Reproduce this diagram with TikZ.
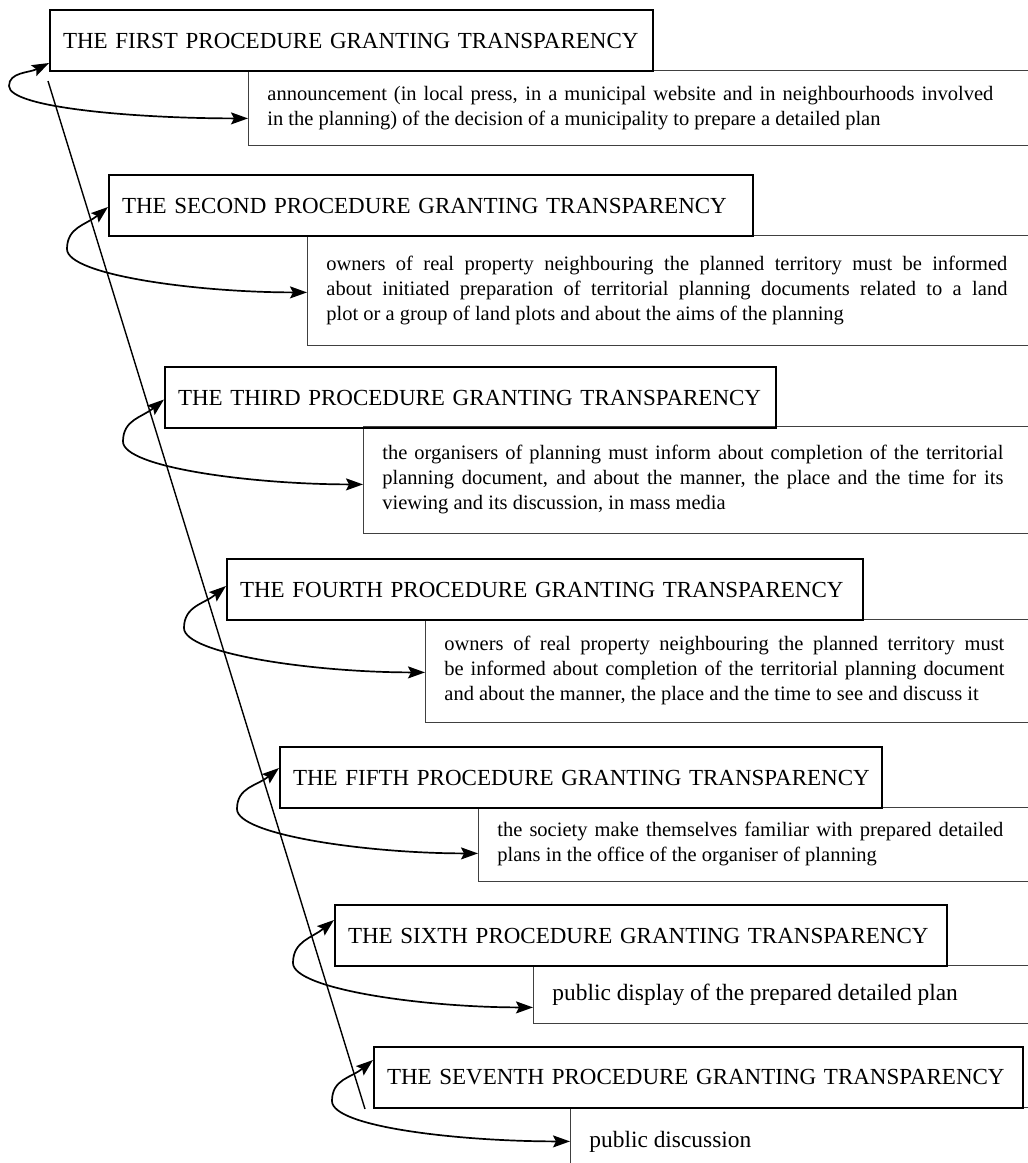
\documentclass[tikz,border=0pt]{standalone}
\usepackage{fontspec}
\setmainfont{Liberation Serif}
\usetikzlibrary{arrows.meta,calc}

\tikzset{
  titel/.style={draw, line width=1pt, anchor=north west, inner xsep=6.5pt,
    minimum height=30.5pt, align=left, font=\fontsize{11.5}{13}\selectfont},
  inhalt/.style={anchor=north west, inner xsep=9.5pt, align=justify,
    font=\fontsize{10.25}{12.5}\selectfont},
  rahmen/.style={line width=0.5pt, black!75},
  pfeil/.style={line width=0.85pt, {Stealth[length=8.5pt,width=6pt,inset=1.5pt]}-{Stealth[length=8.5pt,width=6pt,inset=1.5pt]}}
}

\begin{document}
\begin{tikzpicture}[x=0.5pt, y=-0.5pt]
  \useasboundingbox (0,0) rectangle (1028,1163);
  \clip (0,0) rectangle (1028,1163);
  % Beschreibungen
  \node[inhalt, text width=363pt, minimum height=37.5pt] (d1) at (248,70) {announcement (in local press, in a municipal website and in neighbourhoods involved\linebreak in the planning) of the decision of a municipality to prepare a detailed plan};
  \node[inhalt, text width=340.5pt, minimum height=55pt] (d2) at (307,235) {owners of real property neighbouring the planned territory must be informed\linebreak about initiated preparation of territorial planning documents related to a land\linebreak plot or a group of land plots and about the aims of the planning};
  \node[inhalt, text width=310.5pt, minimum height=53.5pt] (d3) at (363,426) {the organisers of planning must inform about completion of the territorial\linebreak planning document, and about the manner, the place and the time for its\linebreak viewing and its discussion, in mass media};
  \node[inhalt, text width=280pt, minimum height=51.5pt] (d4) at (425,619) {owners of real property neighbouring the planned territory must\linebreak be informed about completion of the territorial planning document\linebreak and about the manner, the place and the time to see and discuss it};
  \node[inhalt, text width=253pt, minimum height=37pt] (d5) at (478,807) {the society make themselves familiar with prepared detailed\linebreak plans in the office of the organiser of planning};
  \node[inhalt, text width=240pt, minimum height=29pt, font=\fontsize{11.7}{14}\selectfont] (d6) at (533,965) {public display of the prepared detailed plan};
  \node[inhalt, text width=200pt, minimum height=34pt, font=\fontsize{11.7}{14}\selectfont] (d7) at (570,1107) {public discussion};
  \coordinate (rechts) at (1100,0);
  \foreach \k in {1,...,7}
    \draw[rahmen] (d\k.north west) rectangle (d\k.south west -| rechts);
  % Verfahren
  \node[titel, text width=288.5pt] (t1) at (49,9) {\mbox{THE FIRST PROCEDURE GRANTING TRANSPARENCY}};
  \node[titel, text width=309pt] (t2) at (108,174) {\mbox{THE SECOND PROCEDURE GRANTING TRANSPARENCY}};
  \node[titel, text width=292.5pt] (t3) at (164,366) {\mbox{THE THIRD PROCEDURE GRANTING TRANSPARENCY}};
  \node[titel, text width=305pt] (t4) at (226,558) {\mbox{THE FOURTH PROCEDURE GRANTING TRANSPARENCY}};
  \node[titel, text width=288pt] (t5) at (279,746) {\mbox{THE FIFTH PROCEDURE GRANTING TRANSPARENCY}};
  \node[titel, text width=293pt] (t6) at (334,904) {\mbox{THE SIXTH PROCEDURE GRANTING TRANSPARENCY}};
  \node[titel, text width=311.5pt] (t7) at (373,1046) {\mbox{THE SEVENTH PROCEDURE GRANTING TRANSPARENCY}};
  % Zeitachse
  \draw[line width=0.7pt] (48,81) -- (365,1109);
  % Pfeile
  \draw[pfeil] ([yshift=-11.25pt]t1.west) .. controls +(-20,10) and +(0,-14) .. ++(-40,23) .. controls +(0,22) and +(-110,0) .. ([yshift=-5.25pt]d1.west);
  \draw[pfeil] ([yshift=-0.75pt]t2.west) .. controls +(-22,18) and +(0,-22) .. ++(-41,42) .. controls +(0,26) and +(-110,0) .. ([yshift=-1pt]d2.west);
  \draw[pfeil] ([yshift=-1pt]t3.west) .. controls +(-22,18) and +(0,-22) .. ++(-41,42) .. controls +(0,26) and +(-110,0) .. ([yshift=-2.25pt]d3.west);
  \draw[pfeil] ([yshift=1.75pt]t4.west) .. controls +(-22,18) and +(0,-22) .. ++(-42,42) .. controls +(0,26) and +(-110,0) .. ([yshift=-0.75pt]d4.west);
  \draw[pfeil] ([yshift=4.75pt]t5.west) .. controls +(-22,18) and +(0,-22) .. ++(-42,41) .. controls +(0,26) and +(-110,0) .. ([yshift=-4.5pt]d5.west);
  \draw[pfeil] ([yshift=7.75pt]t6.west) .. controls +(-22,18) and +(0,-22) .. ++(-41,43) .. controls +(0,26) and +(-110,0) .. ([yshift=-6.5pt]d6.west);
  \draw[pfeil] ([yshift=8.75pt]t7.west) .. controls +(-22,18) and +(0,-22) .. ++(-41,41) .. controls +(0,26) and +(-110,0) .. (d7.west);
\end{tikzpicture}
\end{document}
